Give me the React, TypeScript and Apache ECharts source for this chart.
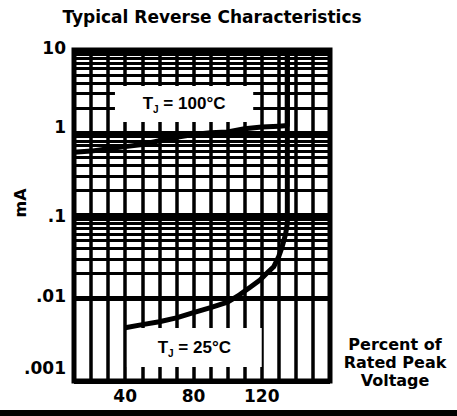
import React, { useEffect, useRef } from "react";
import * as echarts from "echarts";

// ---- data ----
const xMin = 10;
const xMax = 160;
const xStep = 10;
const xTickLabels = [40, 80, 120];

const yMin = 0.001;
const yMax = 10;
const yTickText: Record<string, string> = { "1": "10", "0": "1", "-1": ".1", "-2": ".01", "-3": ".001" };
// vertical offset (px upward) of each decade label, as printed in the original
const yTickLift: Record<string, number> = { "1": 2, "0": 6, "-1": 0, "-2": 2, "-3": 13 };

const decades = [0.001, 0.01, 0.1, 1];
const minorSteps = [2, 3, 4, 5, 6, 7, 8, 9];

const curve100X = [10, 20, 30, 40, 50, 60, 70, 80, 90, 100, 110, 120, 130, 135, 135];
const curve100Y = [0.58, 0.6, 0.64, 0.68, 0.72, 0.8, 0.88, 0.95, 1.0, 1.02, 1.12, 1.17, 1.2, 1.22, 10];

const curve25X = [40, 50, 60, 70, 80, 90, 100, 107, 113, 119, 124, 127, 130, 132, 134, 135, 135];
const curve25Y = [0.0044, 0.0048, 0.0052, 0.0058, 0.0067, 0.0077, 0.009, 0.011, 0.0135, 0.0166, 0.021, 0.024, 0.032, 0.042, 0.06, 0.08, 10];

const box100 = { x0: 34, x1: 115, y0: 1.35, y1: 3.67, temp: "100" };
const box25 = { x0: 41, x1: 120, y0: 0.00148, y1: 0.00437, temp: "25" };

const title = "Typical Reverse Characteristics";
const yName = "mA";
const xName = "Percent of\nRated Peak\nVoltage";

const BOLD = "'DejaVu Sans', sans-serif";
const ARIAL = "'Liberation Sans', Arial, sans-serif";

export default function App() {
  const ref = useRef<HTMLDivElement>(null);

  useEffect(() => {
    document.body.style.margin = "0";
    if (!ref.current) return;
    const chart = echarts.init(ref.current, undefined, { renderer: "svg" });

    const minorValues: number[] = [];
    decades.forEach((d) => minorSteps.forEach((m) => minorValues.push(d * m)));

    const boxItem = (b: typeof box100) => [
      {
        xAxis: b.x0,
        yAxis: b.y0,
        label: { formatter: `{t|T}{j|J}{t| = ${b.temp}°C}` },
      },
      { xAxis: b.x1, yAxis: b.y1 },
    ];

    const ySpacer: Record<string, any> = {};
    Object.keys(yTickLift).forEach((k) => {
      ySpacer["s" + k.replace("-", "m")] = { lineHeight: Math.max(1, yTickLift[k] * 2), fontSize: 1 };
    });

    chart.setOption({
      animation: false,
      backgroundColor: "#fff",
      grid: {
        left: 74,
        top: 50,
        width: 256,
        height: 331,
        show: true,
        borderColor: "#000",
        borderWidth: 5,
        backgroundColor: "transparent",
      },
      xAxis: {
        type: "value",
        min: xMin,
        max: xMax,
        interval: xStep,
        axisLine: { show: false },
        axisTick: { show: false },
        splitLine: { show: true, lineStyle: { color: "#000", width: 3.5 } },
        axisLabel: {
          margin: 6,
          color: "#000",
          fontFamily: BOLD,
          fontWeight: "bold",
          fontSize: 17,
          formatter: (v: number) => (xTickLabels.includes(v) ? String(v) : ""),
        },
      },
      yAxis: {
        type: "log",
        logBase: 10,
        min: yMin,
        max: yMax,
        axisLine: { show: false },
        axisTick: { show: false },
        splitLine: { show: true, lineStyle: { color: "#000", width: 5 } },
        axisLabel: {
          margin: 8,
          color: "#000",
          formatter: (v: number) => {
            const k = String(Math.round(Math.log10(v)));
            const lift = yTickLift[k] || 0;
            const key = "s" + k.replace("-", "m");
            return lift > 0 ? `{v|${yTickText[k]}}\n{${key}| }` : `{v|${yTickText[k]}}`;
          },
          rich: {
            v: { fontFamily: BOLD, fontWeight: "bold", fontSize: 17, color: "#000", lineHeight: 18 },
            ...ySpacer,
          },
        },
      },
      series: [
        {
          type: "line",
          z: 1,
          data: [[xMin, yMin]],
          showSymbol: false,
          lineStyle: { width: 0 },
          silent: true,
          markLine: {
            z: 1,
            silent: true,
            symbol: ["none", "none"],
            label: { show: false },
            lineStyle: { color: "#000", width: 3, type: "solid" },
            data: minorValues.map((v) => ({ yAxis: v })),
          },
        },
        {
          type: "line",
          z: 10,
          data: [[xMin, yMin]],
          showSymbol: false,
          lineStyle: { width: 0 },
          silent: true,
          markArea: {
            z: 10,
            silent: true,
            itemStyle: { color: "#fff" },
            label: {
              show: true,
              position: "inside",
              rich: {
                t: { fontFamily: ARIAL, fontWeight: "bold", fontSize: 17, color: "#000", lineHeight: 22 },
                j: { fontFamily: ARIAL, fontWeight: "bold", fontSize: 10, color: "#000", lineHeight: 10, verticalAlign: "bottom" },
              },
            },
            data: [boxItem(box100), boxItem(box25)],
          },
        },
        {
          type: "line",
          z: 20,
          name: "TJ = 100°C",
          data: curve100X.map((x, i) => [x, curve100Y[i]]),
          showSymbol: false,
          lineStyle: { color: "#000", width: 5, join: "round" },
        },
        {
          type: "line",
          z: 20,
          name: "TJ = 25°C",
          data: curve25X.map((x, i) => [x, curve25Y[i]]),
          showSymbol: false,
          lineStyle: { color: "#000", width: 5, join: "round" },
        },
      ],
      graphic: [
        {
          type: "text",
          z: 100,
          x: 212,
          y: 17,
          style: { text: title, fontFamily: BOLD, fontWeight: "bold", fontSize: 17, fill: "#000", align: "center", verticalAlign: "middle" },
        },
        {
          type: "text",
          z: 100,
          x: 20,
          y: 203,
          rotation: Math.PI / 2,
          style: { text: yName, fontFamily: BOLD, fontWeight: "bold", fontSize: 16, fill: "#000", align: "center", verticalAlign: "middle" },
        },
        {
          type: "text",
          z: 100,
          x: 395,
          y: 362,
          style: { text: xName, fontFamily: BOLD, fontWeight: "bold", fontSize: 16, lineHeight: 18, fill: "#000", align: "center", verticalAlign: "middle" },
        },
        {
          type: "rect",
          z: 100,
          shape: { x: 0, y: 410, width: 457, height: 6 },
          style: { fill: "#000" },
        },
      ],
    });

    return () => chart.dispose();
  }, []);

  return <div ref={ref} style={{ width: 457, height: 416 }} />;
}
